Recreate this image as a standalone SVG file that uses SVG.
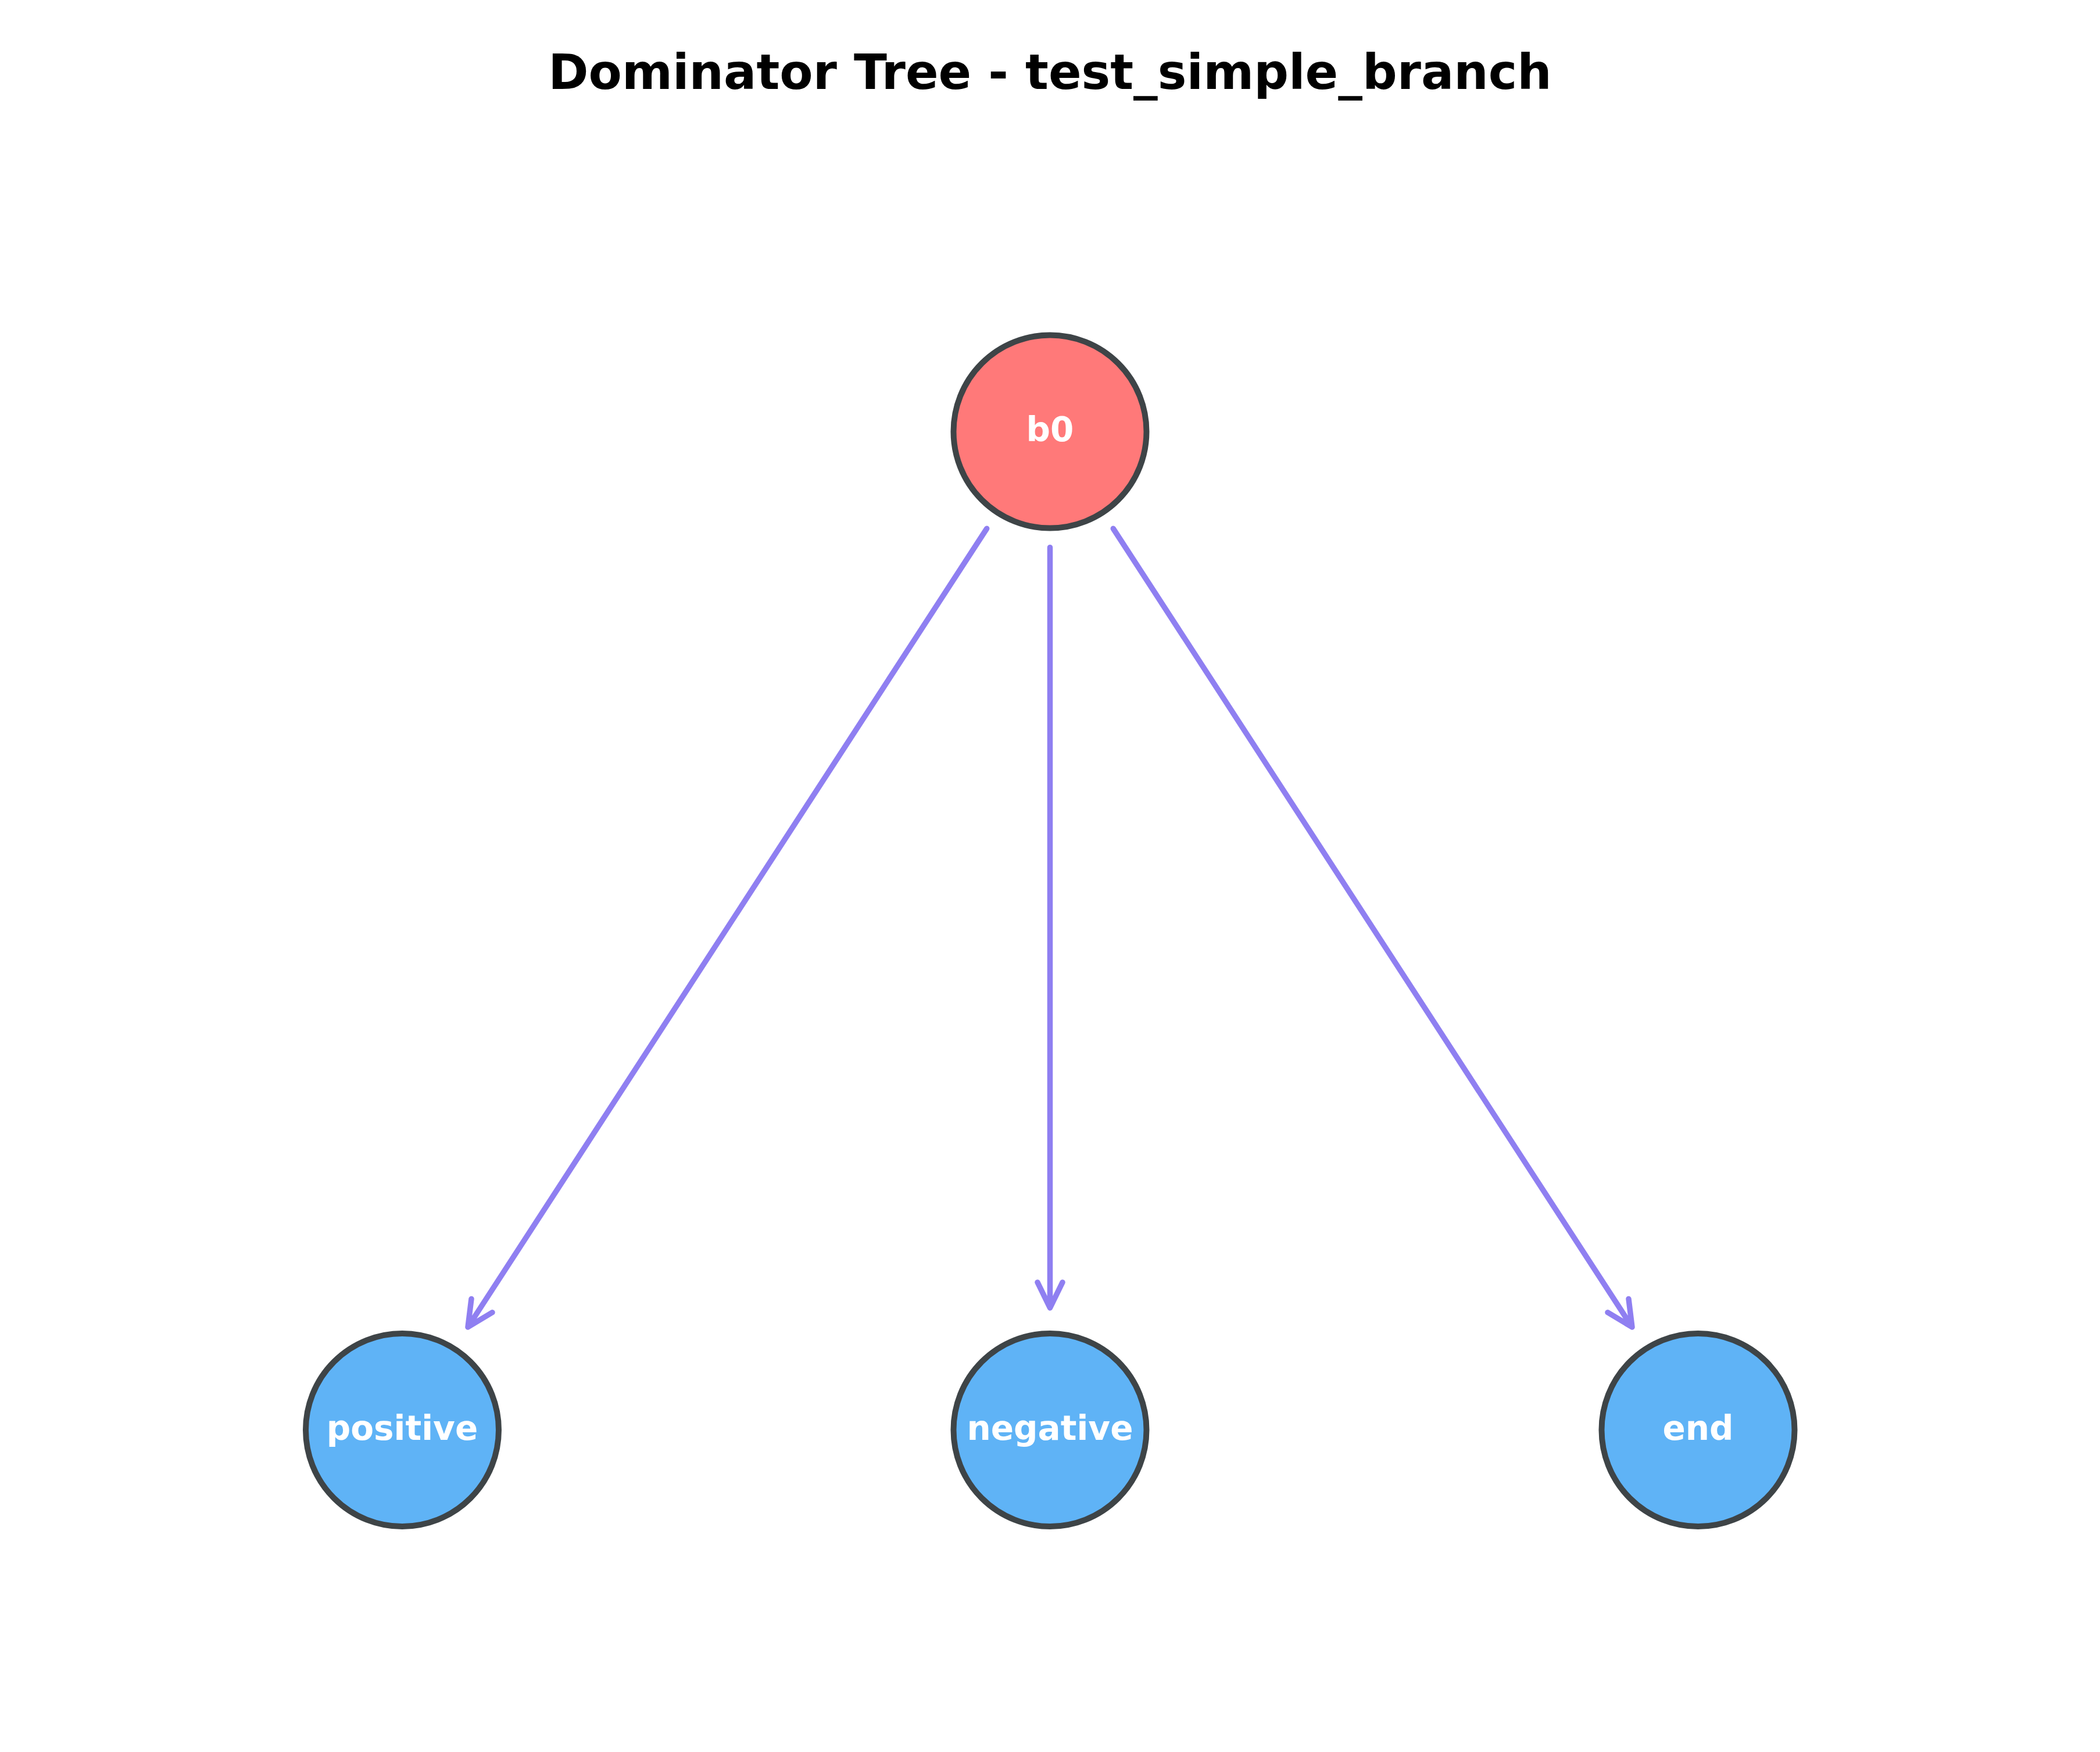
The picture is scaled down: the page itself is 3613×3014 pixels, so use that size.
<svg xmlns="http://www.w3.org/2000/svg" width="3613" height="3014" viewBox="0 0 3613 3014">
<style>
.title{font-family:"DejaVu Sans","Liberation Sans",sans-serif;font-weight:bold;font-size:83.5px;fill:#000;text-anchor:middle}
.lbl{font-family:"DejaVu Sans","Liberation Sans",sans-serif;font-weight:bold;font-size:58px;fill:#fff;text-anchor:middle}
.node{stroke:#3E4447;stroke-width:10}
.root{fill:#FF7979}
.child{fill:#5FB3F6}
.edge{fill:none;stroke:#7B68EE;stroke-opacity:0.85;stroke-width:9.5;stroke-linecap:round;stroke-linejoin:round}
</style>
<rect x="0" y="0" width="3613" height="3014" fill="#fff"/>
<text class="title" x="1806.5" y="153">Dominator Tree - test_simple_branch</text>
<g id="edges">
<path class="edge" d="M1697.7 909.3 L805 2283 M811 2234.4 L805 2283 L847 2257.8"/>
<path class="edge" d="M1806.5 941.7 L1806.5 2250 M1785 2206 L1806.5 2250 L1828 2206"/>
<path class="edge" d="M1915.3 909.3 L2808 2283 M2802 2234.4 L2808 2283 L2766 2257.8"/>
</g>
<g id="node-b0">
<circle class="node root" cx="1806.5" cy="742.5" r="166"/>
<text class="lbl" x="1806.5" y="759">b0</text>
</g>
<g id="node-positive">
<circle class="node child" cx="692" cy="2460" r="166"/>
<text class="lbl" x="692" y="2477">positive</text>
</g>
<g id="node-negative">
<circle class="node child" cx="1806.5" cy="2460" r="166"/>
<text class="lbl" x="1806.5" y="2477">negative</text>
</g>
<g id="node-end">
<circle class="node child" cx="2921.5" cy="2460" r="166"/>
<text class="lbl" x="2921.5" y="2477">end</text>
</g>
</svg>
